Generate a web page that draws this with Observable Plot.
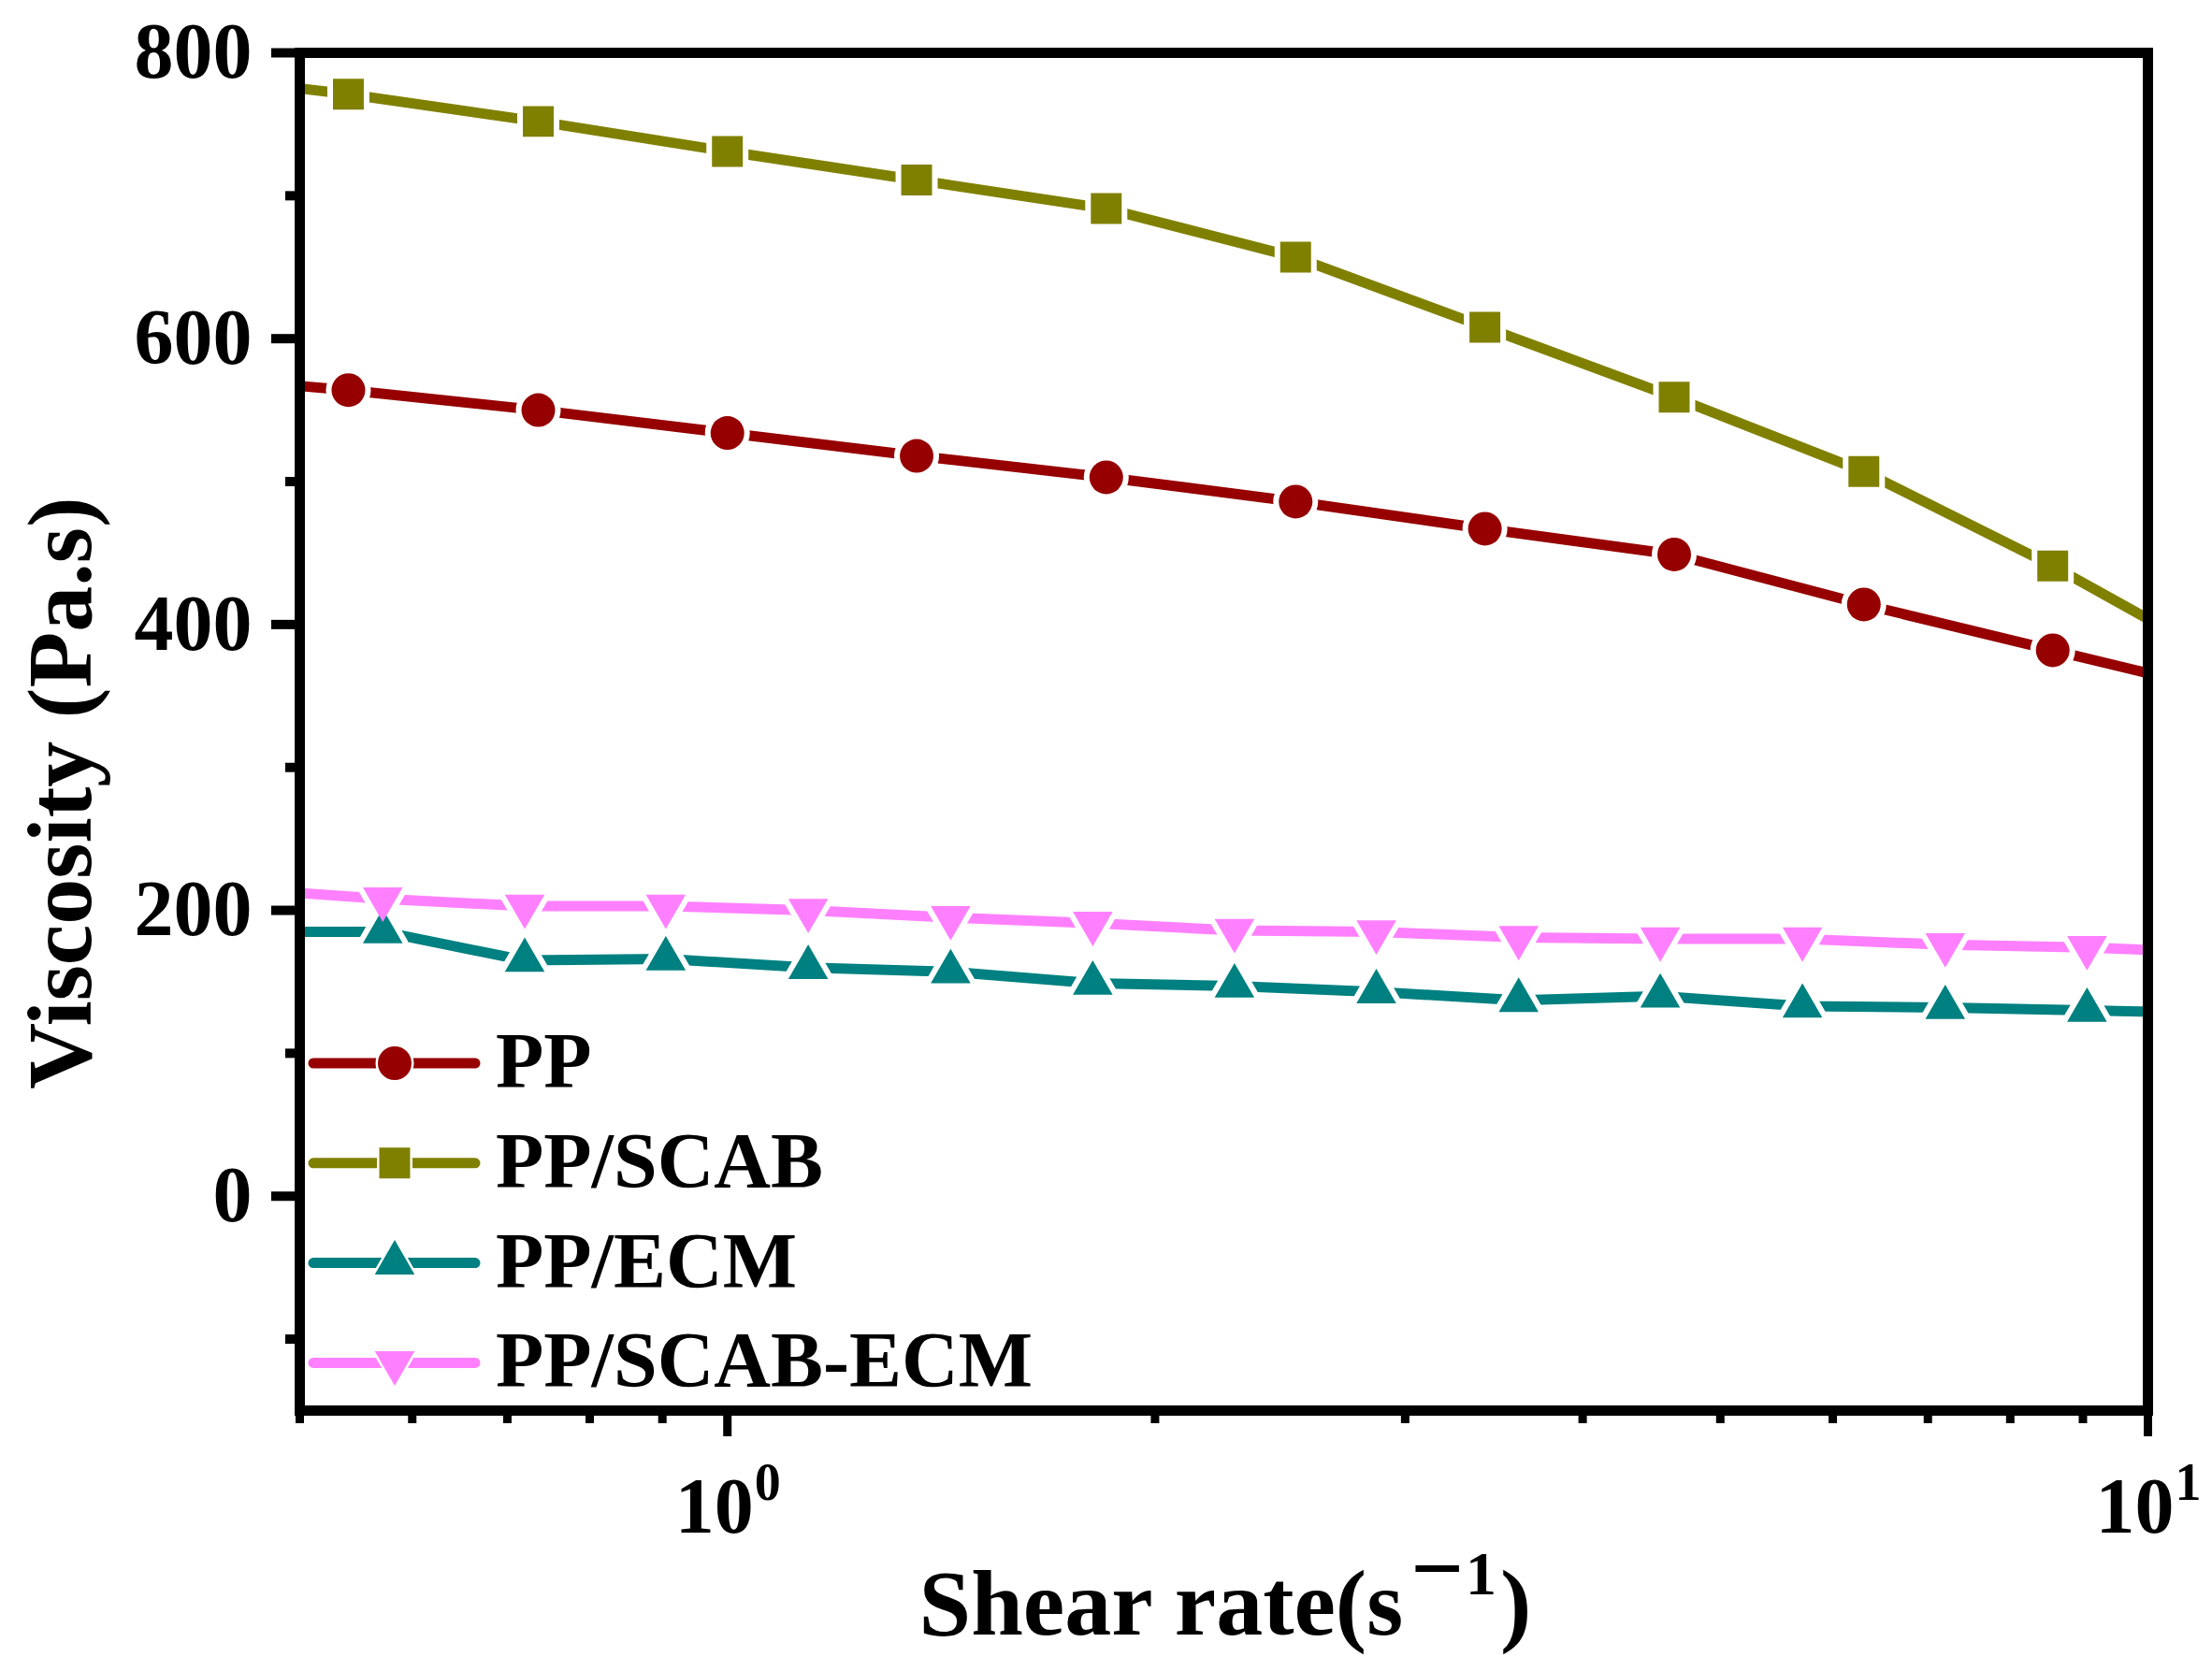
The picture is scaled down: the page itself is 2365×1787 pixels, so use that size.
<!DOCTYPE html>
<html>
<head>
<meta charset="utf-8">
<script src="https://cdn.jsdelivr.net/npm/d3@7"></script>
<script src="https://cdn.jsdelivr.net/npm/@observablehq/plot@0.6"></script>
<style>
  body { margin: 0; background: #fff; overflow: hidden; }
</style>
</head>
<body>
<div id="chart"></div>
<script>
// shear rate (s^-1) for PP and PP/SCAB, first and last point sit just outside the axis (line runs to the edge)
const rateA = [0.398, 0.541, 0.736, 1.0, 1.359, 1.848, 2.512, 3.414, 4.64, 6.31, 8.57, 11.66];
const ppVisc = [575, 564, 550, 534, 518, 503, 486, 467, 449, 414, 382, 350];
const scabVisc = [787, 771, 752, 731, 711, 691, 657, 608, 559, 507, 441, 367];

// shear rate for PP/ECM and PP/SCAB-ECM
const rateB = [0.454, 0.572, 0.720, 0.905, 1.140, 1.436, 1.808, 2.275, 2.863, 3.606, 4.536, 5.712, 7.20, 9.06, 11.40];
const ecmVisc = [185, 185, 165, 166, 160, 157, 149, 147, 143, 137, 140, 133, 132, 130, 128];
const scabEcmVisc = [215, 208, 203, 203, 200, 195, 191, 186, 185, 181, 180, 180, 176, 174, 170];

const names = ["PP", "PP/SCAB", "PP/ECM", "PP/SCAB-ECM"];
const colors = ["#960000", "#808000", "#008080", "#ff80ff"];

const xTicks = [1, 10];
const xMinor = [0.5, 0.6, 0.7, 0.8, 0.9, 2, 3, 4, 5, 6, 7, 8, 9];
const yTicks = [0, 200, 400, 600, 800];
const yMinor = [-100, 100, 300, 500, 700];

// Origin style down triangle (d3 has only the up one)
const triangleDown = {
  draw(context, size) {
    const y = Math.sqrt(size / (Math.sqrt(3) * 3));
    context.moveTo(0, y * 2);
    context.lineTo(-Math.sqrt(3) * y, -y);
    context.lineTo(Math.sqrt(3) * y, -y);
    context.closePath();
  }
};

const pts = (xs, ys) => xs.map((x, i) => ({x, y: ys[i]}));
const series = [
  {data: pts(rateA, ppVisc), symbol: d3.symbolCircle, r: 18},
  {data: pts(rateA, scabVisc), symbol: d3.symbolSquare, r: 18.6},
  {data: pts(rateB, ecmVisc), symbol: d3.symbolTriangle, r: 15.8},
  {data: pts(rateB, scabEcmVisc), symbol: triangleDown, r: 15.8},
].map((s, i) => ({...s, name: names[i], color: colors[i]}));

const font = '"Times New Roman", "Liberation Serif", serif';
const lw = 11;

const marks = [];
// lines first, then white halos (gap round markers), then markers
series.forEach(s => marks.push(
  Plot.line(s.data, {x: "x", y: "y", stroke: s.color, strokeWidth: lw, clip: true})
));
series.forEach(s => marks.push(
  Plot.dot(s.data, {x: "x", y: "y", symbol: s.symbol, r: s.r, fill: "white",
    stroke: "white", strokeWidth: 12, strokeLinejoin: "round", clip: true})
));
series.forEach(s => marks.push(
  Plot.dot(s.data, {x: "x", y: "y", symbol: s.symbol, r: s.r, fill: s.color, stroke: "none", clip: true})
));

const plot = Plot.plot({
  width: 2365,
  height: 1787,
  marginLeft: 320,
  marginRight: 69,
  marginTop: 56,
  marginBottom: 279,
  style: {fontFamily: font, fontWeight: "bold", fontSize: "84px", background: "white", color: "black"},
  x: {type: "log", domain: [0.5, 10]},
  y: {domain: [-150, 800]},
  marks: [
    ...marks,
    Plot.axisY(yTicks, {tickSize: 30, tickPadding: 21, strokeWidth: 10, label: null, tickFormat: d => d}),
    Plot.axisY(yMinor, {tickSize: 15, strokeWidth: 10, label: null, tickFormat: () => ""}),
    Plot.axisX(xTicks, {tickSize: 28, strokeWidth: 9, label: null, tickFormat: () => ""}),
    Plot.axisX(xMinor, {tickSize: 14, strokeWidth: 9, label: null, tickFormat: () => ""}),
    // 10^n labels: base and superscript
    Plot.text(xTicks, {x: d => d, frameAnchor: "bottom", text: () => "10", dy: 130, dx: -14,
      lineAnchor: "bottom", textAnchor: "middle", fontSize: 84}),
    Plot.text(xTicks, {x: d => d, frameAnchor: "bottom", text: d => String(Math.round(Math.log10(d))),
      dy: 95, dx: 29, lineAnchor: "bottom", textAnchor: "start", fontSize: 56}),
    Plot.frame({stroke: "black", strokeWidth: 11})
  ]
});

document.getElementById("chart").append(plot);

// titles and legend added into the plot svg
const svg = d3.select(plot);

const xt = svg.append("text")
  .attr("x", 1310).attr("y", 1748)
  .attr("text-anchor", "middle")
  .style("font-family", font).style("font-weight", "bold").style("font-size", "100px")
  .attr("fill", "black");
xt.append("tspan").text("Shear rate(s");
xt.append("tspan").attr("dy", -37).attr("dx", 8).text("\u2212");
xt.append("tspan").attr("dy", -6).attr("dx", 2).style("font-size", "66px").text("1");
xt.append("tspan").attr("dy", 43).attr("dx", 4).text(")");

svg.append("text")
  .attr("transform", "translate(97,848) rotate(-90)")
  .attr("text-anchor", "middle")
  .style("font-family", font).style("font-weight", "bold").style("font-size", "98px")
  .attr("fill", "black")
  .text("Viscosity (Pa.s)");

const leg = svg.append("g");
series.forEach((s, i) => {
  const y = 1137 + i * 106.8;
  leg.append("line")
    .attr("x1", 335).attr("x2", 508).attr("y1", y).attr("y2", y)
    .attr("stroke", s.color).attr("stroke-width", lw).attr("stroke-linecap", "round");
  const d = d3.symbol(s.symbol, Math.PI * s.r * s.r)();
  leg.append("path").attr("d", d).attr("transform", `translate(422,${y})`)
    .attr("fill", "white").attr("stroke", "white").attr("stroke-width", 5).attr("stroke-linejoin", "round");
  leg.append("path").attr("d", d).attr("transform", `translate(422,${y})`)
    .attr("fill", s.color);
  leg.append("text")
    .attr("x", 530).attr("y", y + 26)
    .attr("text-anchor", "start")
    .style("font-family", font).style("font-weight", "bold").style("font-size", "84px")
    .attr("fill", "black")
    .text(s.name);
});
</script>
</body>
</html>
